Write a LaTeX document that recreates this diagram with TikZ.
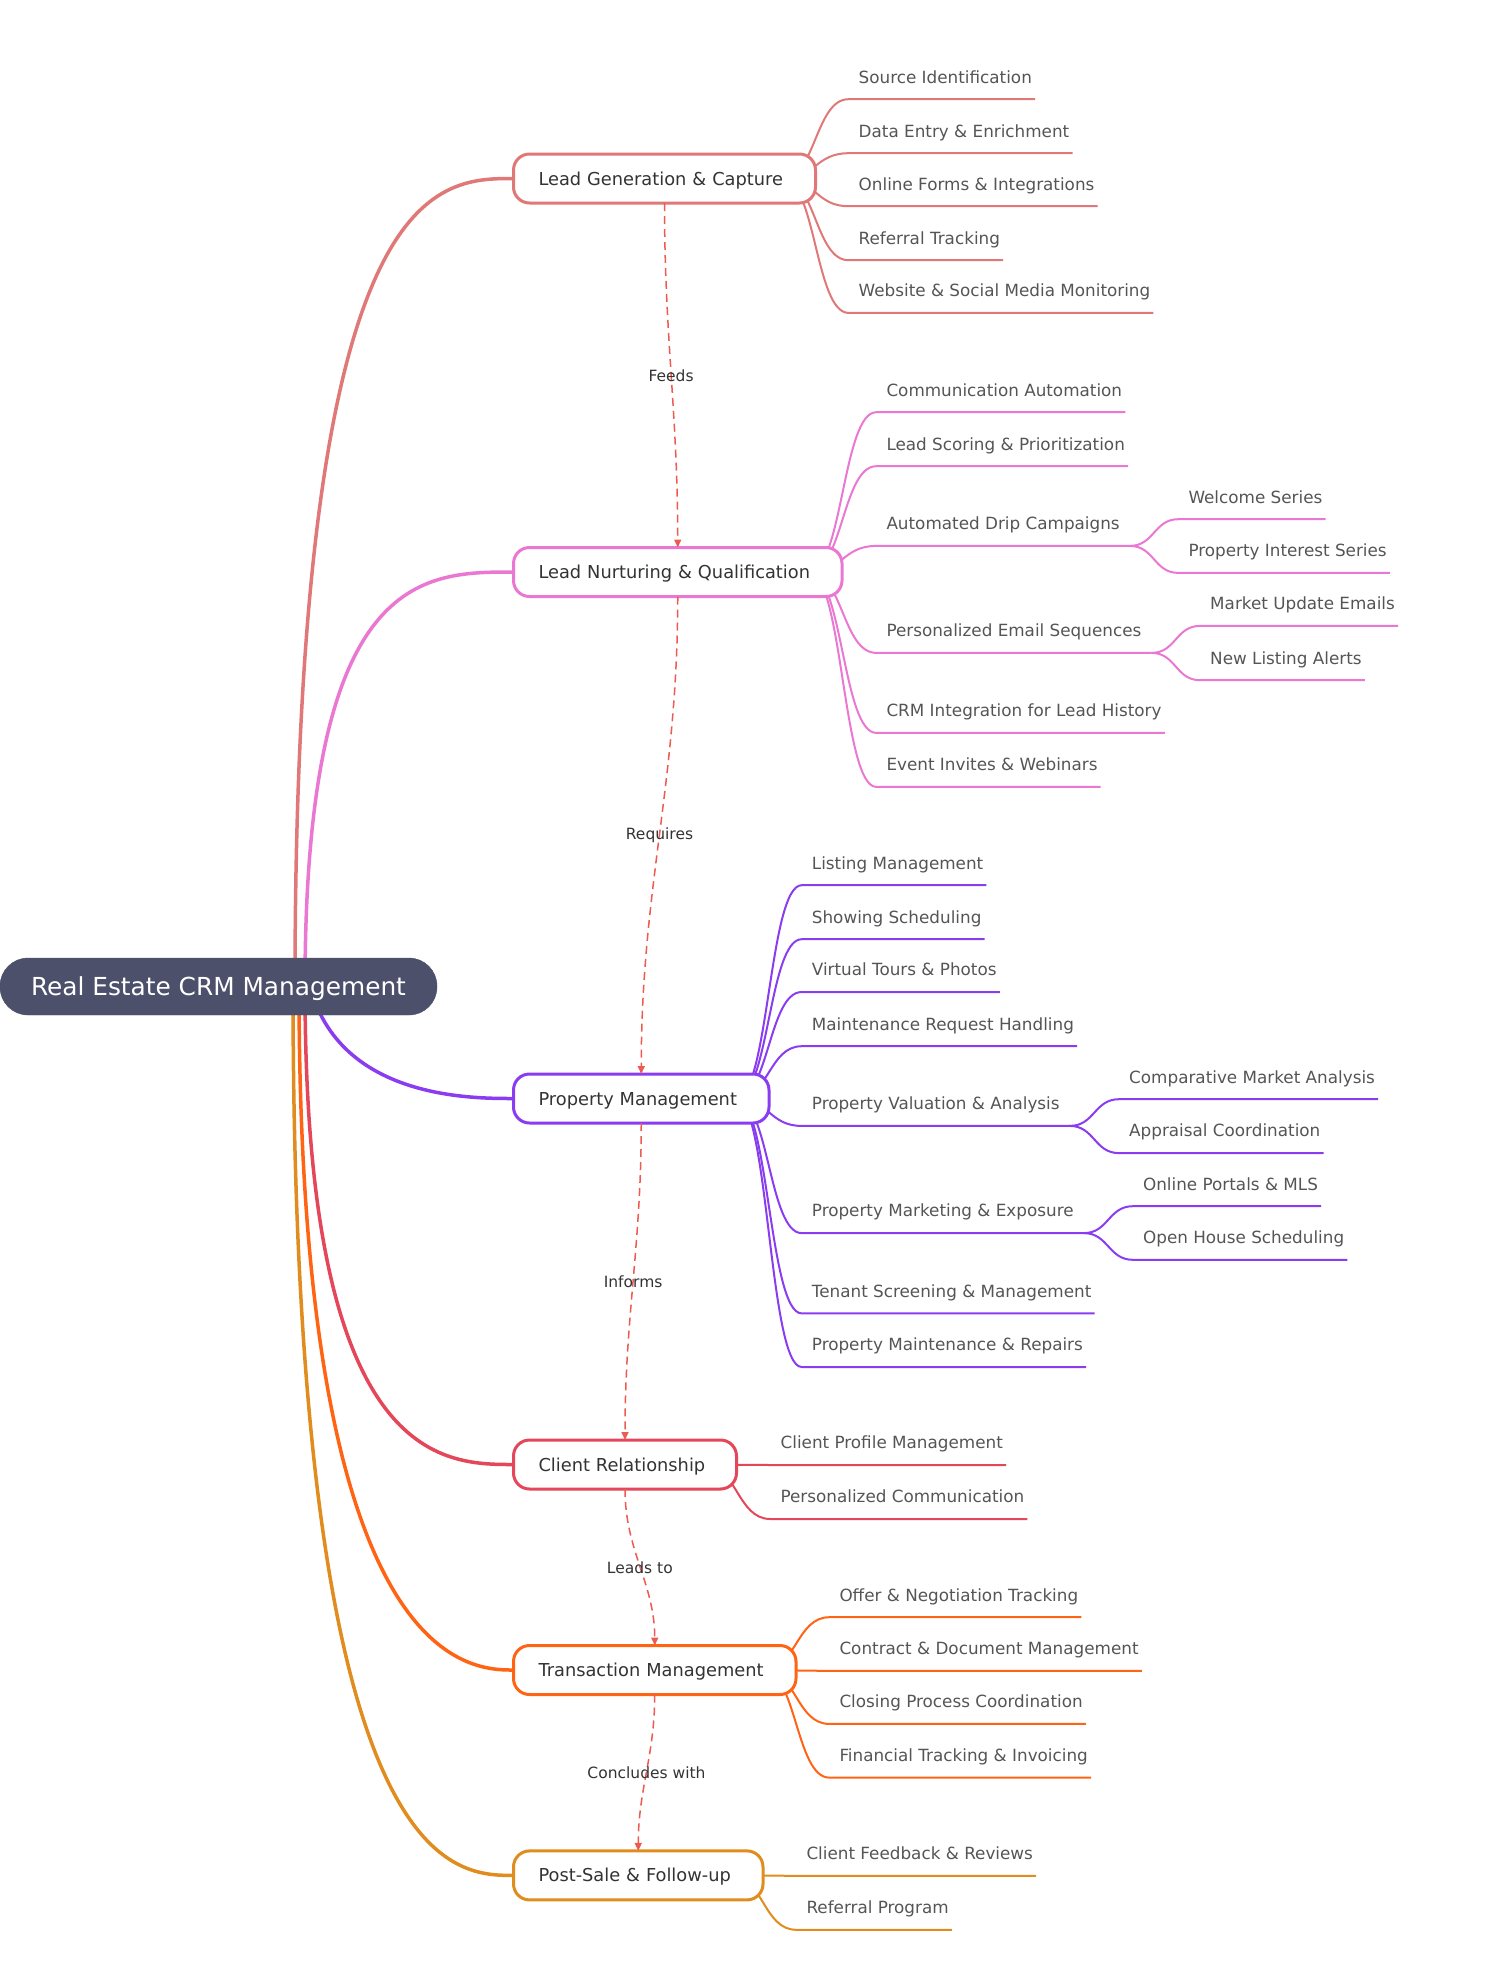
\documentclass[tikz,border=0pt]{standalone}
\usepackage{fontspec}
\setmainfont{DejaVu Sans}
\usetikzlibrary{calc,arrows.meta,backgrounds}
\definecolor{cA}{HTML}{E07878}
\definecolor{cB}{HTML}{EA78D2}
\definecolor{cC}{HTML}{8A3CF0}
\definecolor{cD}{HTML}{E4465A}
\definecolor{cE}{HTML}{FF6414}
\definecolor{cF}{HTML}{E08C1E}
\definecolor{rootfill}{HTML}{4C506A}
\definecolor{dashred}{HTML}{EC5A50}
\definecolor{leaftext}{HTML}{555555}
\definecolor{branchtext}{HTML}{333333}
\tikzset{
  rootnode/.style={fill=rootfill, draw=rootfill, rounded corners=28pt, minimum width=437pt, minimum height=57pt, inner sep=0pt, text=white, font=\fontsize{24.8}{30}\selectfont, text height=18pt, text depth=0pt},
  branchbox/.style 2 args={draw=#1, line width=3pt, fill=white, rounded corners=16pt, minimum height=49pt, inner xsep=25pt, inner ysep=0pt, outer sep=0pt, text width=#2, align=left, anchor=west, text=branchtext, font=\fontsize{17.8}{21}\selectfont, text height=13pt, text depth=0pt},
  leaf/.style={anchor=base west, inner sep=0pt, text depth=16pt, text=leaftext, font=\fontsize{16.8}{20}\selectfont},
  leafline/.style={draw=#1, line width=2pt},
  rootline/.style={draw=#1, line width=3.5pt},
  flow/.style={draw=dashred, line width=1.5pt, dash pattern=on 8pt off 5pt, -{Triangle[length=8pt,width=7pt]}},
  flowlabel/.style={text=branchtext, font=\fontsize{15.5}{18}\selectfont, inner sep=1pt},
}
\newcommand\leafedge[4]{\draw[leafline=#1] let \p1=(#2), \p2=([xshift=-10pt]#3.south west) in (\p1) .. controls ({(\x1+\x2)/2},\y1) and ({(\x1+\x2)/2},\y2) .. (\p2) -- ([xshift=#4pt]#3.south east);}
\newcommand\rootedge[5]{\draw[rootline=#1] let \p1=([xshift=#2pt]root.center), \p2=(#5.west) in (\p1) .. controls ({\x1+#3*(\x2-\x1)},\y2) and ({\x1+#4*(\x2-\x1)},\y2) .. (\p2);}
\begin{document}
\begin{tikzpicture}[x=1pt,y=-1pt]
\useasboundingbox (0,0) rectangle (1494,1974);

% root
\node[rootnode] (root) at (218.5,986.5) {Real Estate CRM Management};

% branches
\node[branchbox={cA}{252pt}] (b1) at (513.5,178.5) {\mbox{Lead Generation \& Capture}};
\node[branchbox={cB}{278.5pt}] (b2) at (513.5,572) {\mbox{Lead Nurturing \& Qualification}};
\node[branchbox={cC}{205.5pt}] (b3) at (513.5,1098.5) {\mbox{Property Management}};
\node[branchbox={cD}{173pt}] (b4) at (513.5,1464.5) {\mbox{Client Relationship}};
\node[branchbox={cE}{232.5pt}] (b5) at (513.5,1670) {\mbox{Transaction Management}};
\node[branchbox={cF}{199.5pt}] (b6) at (513.5,1875.4) {\mbox{Post-Sale \& Follow-up}};

% leaves: lead generation
\node[leaf] (a1) at (858.5,83) {Source Identification};
\node[leaf] (a2) at (858.5,137) {Data Entry \& Enrichment};
\node[leaf] (a3) at (858.5,190) {Online Forms \& Integrations};
\node[leaf] (a4) at (858.5,244) {Referral Tracking};
\node[leaf] (a5) at (858.5,296.7) {Website \& Social Media Monitoring};

% leaves: nurturing
\node[leaf] (n1) at (886.3,396) {Communication Automation};
\node[leaf] (n2) at (886.3,450) {Lead Scoring \& Prioritization};
\node[leaf] (n3) at (886.3,529.7) {Automated Drip Campaigns};
\node[leaf] (n31) at (1188.3,503) {Welcome Series};
\node[leaf] (n32) at (1188.3,556.7) {Property Interest Series};
\node[leaf] (n4) at (886.3,636.7) {Personalized Email Sequences};
\node[leaf] (n41) at (1210,609.7) {Market Update Emails};
\node[leaf] (n42) at (1210,664) {New Listing Alerts};
\node[leaf] (n5) at (886.3,716.7) {CRM Integration for Lead History};
\node[leaf] (n6) at (886.3,770.7) {Event Invites \& Webinars};

% leaves: property
\node[leaf] (p1) at (811.7,869) {Listing Management};
\node[leaf] (p2) at (811.7,923) {Showing Scheduling};
\node[leaf] (p3) at (811.7,975.8) {Virtual Tours \& Photos};
\node[leaf] (p4) at (811.7,1030) {Maintenance Request Handling};
\node[leaf] (p5) at (811.7,1109.7) {Property Valuation \& Analysis};
\node[leaf] (p51) at (1129,1083) {Comparative Market Analysis};
\node[leaf] (p52) at (1129,1136.9) {Appraisal Coordination};
\node[leaf] (p6) at (811.7,1216.9) {Property Marketing \& Exposure};
\node[leaf] (p61) at (1142.9,1190) {Online Portals \& MLS};
\node[leaf] (p62) at (1142.9,1243.6) {Open House Scheduling};
\node[leaf] (p7) at (811.7,1297.2) {Tenant Screening \& Management};
\node[leaf] (p8) at (811.7,1350.8) {Property Maintenance \& Repairs};

% leaves: client
\node[leaf] (c1) at (780.4,1448.8) {Client Profile Management};
\node[leaf] (c2) at (780.4,1502.8) {Personalized Communication};

% leaves: transaction
\node[leaf] (t1) at (839.3,1601) {Offer \& Negotiation Tracking};
\node[leaf] (t2) at (839.3,1654.7) {Contract \& Document Management};
\node[leaf] (t3) at (839.3,1707.7) {Closing Process Coordination};
\node[leaf] (t4) at (839.3,1761.4) {Financial Tracking \& Invoicing};

% leaves: post-sale
\node[leaf] (s1) at (806.3,1859.6) {Client Feedback \& Reviews};
\node[leaf] (s2) at (806.3,1913.6) {Referral Program};

\begin{scope}[on background layer]
  % root connectors
  \rootedge{cA}{76.5}{0}{0.64}{b1}
  \rootedge{cB}{86.5}{0}{0.56}{b2}
  \rootedge{cC}{91.5}{0.147}{0.786}{b3}
  \rootedge{cD}{86.5}{0}{0.66}{b4}
  \rootedge{cE}{80.5}{0}{0.80}{b5}
  \rootedge{cF}{74.5}{0}{0.72}{b6}
  % lead generation
  \leafedge{cA}{[xshift=-33pt]b1.east}{a1}{3}
  \leafedge{cA}{[xshift=-33pt]b1.east}{a2}{3}
  \leafedge{cA}{[xshift=-33pt]b1.east}{a3}{3}
  \leafedge{cA}{[xshift=-33pt]b1.east}{a4}{3}
  \leafedge{cA}{[xshift=-33pt]b1.east}{a5}{3}
  % nurturing
  \leafedge{cB}{[xshift=-33pt]b2.east}{n1}{3}
  \leafedge{cB}{[xshift=-33pt]b2.east}{n2}{3}
  \leafedge{cB}{[xshift=-33pt]b2.east}{n3}{10}
  \leafedge{cB}{[xshift=10pt]n3.south east}{n31}{3}
  \leafedge{cB}{[xshift=10pt]n3.south east}{n32}{3}
  \leafedge{cB}{[xshift=-33pt]b2.east}{n4}{10}
  \leafedge{cB}{[xshift=10pt]n4.south east}{n41}{3}
  \leafedge{cB}{[xshift=10pt]n4.south east}{n42}{3}
  \leafedge{cB}{[xshift=-33pt]b2.east}{n5}{3}
  \leafedge{cB}{[xshift=-33pt]b2.east}{n6}{3}
  % property
  \leafedge{cC}{[xshift=-33pt]b3.east}{p1}{3}
  \leafedge{cC}{[xshift=-33pt]b3.east}{p2}{3}
  \leafedge{cC}{[xshift=-33pt]b3.east}{p3}{3}
  \leafedge{cC}{[xshift=-33pt]b3.east}{p4}{3}
  \leafedge{cC}{[xshift=-33pt]b3.east}{p5}{10}
  \leafedge{cC}{[xshift=10pt]p5.south east}{p51}{3}
  \leafedge{cC}{[xshift=10pt]p5.south east}{p52}{3}
  \leafedge{cC}{[xshift=-33pt]b3.east}{p6}{10}
  \leafedge{cC}{[xshift=10pt]p6.south east}{p61}{3}
  \leafedge{cC}{[xshift=10pt]p6.south east}{p62}{3}
  \leafedge{cC}{[xshift=-33pt]b3.east}{p7}{3}
  \leafedge{cC}{[xshift=-33pt]b3.east}{p8}{3}
  % client
  \leafedge{cD}{[xshift=-33pt]b4.east}{c1}{3}
  \leafedge{cD}{[xshift=-33pt]b4.east}{c2}{3}
  % transaction
  \leafedge{cE}{[xshift=-33pt]b5.east}{t1}{3}
  \leafedge{cE}{[xshift=-33pt]b5.east}{t2}{3}
  \leafedge{cE}{[xshift=-33pt]b5.east}{t3}{3}
  \leafedge{cE}{[xshift=-33pt]b5.east}{t4}{3}
  % post-sale
  \leafedge{cF}{[xshift=-33pt]b6.east}{s1}{3}
  \leafedge{cF}{[xshift=-33pt]b6.east}{s2}{3}
\end{scope}

% flow arrows
\draw[flow] (b1.south) to[out=-90,in=90] node[flowlabel] {Feeds} (b2.north);
\draw[flow] (b2.south) to[out=-90,in=90] node[flowlabel] {Requires} (b3.north);
\draw[flow] (b3.south) to[out=-90,in=90] node[flowlabel] {Informs} (b4.north);
\draw[flow] (b4.south) to[out=-90,in=90] node[flowlabel] {Leads to} (b5.north);
\draw[flow] (b5.south) to[out=-90,in=90] node[flowlabel] {Concludes with} (b6.north);
\end{tikzpicture}
\end{document}
